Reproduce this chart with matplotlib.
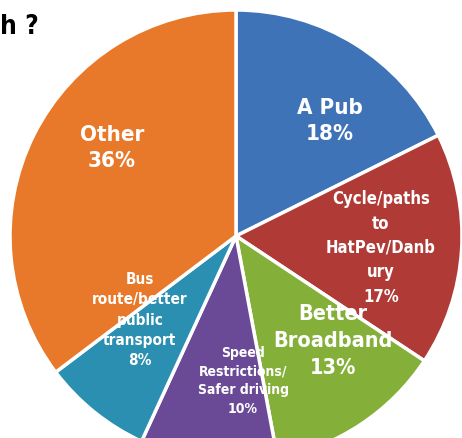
import matplotlib
matplotlib.use("Agg")
import matplotlib.pyplot as plt

# datos del grafico
labels = ["A Pub", "Cycle/paths\nto\nHatPev/Danb\nury", "Better\nBroadband",
          "Speed\nRestrictions/\nSafer driving", "Bus\nroute/better\npublic\ntransport", "Other"]
values = [18, 17, 13, 10, 8, 36]
colors = ["#3f73b8", "#b03a36", "#84b03a", "#6a4a96", "#2a8fb0", "#e8792a"]

W, H = 462, 438
fig = plt.figure(figsize=(W / 100, H / 100), dpi=100)
ax = fig.add_axes([0, 0, 1, 1])

cx, cy = 236, H - 236
ax.pie(values, colors=colors, startangle=90, counterclock=False,
       center=(cx, cy), radius=226, frame=True,
       wedgeprops=dict(edgecolor="white", linewidth=2.5))
ax.set_xlim(0, W)
ax.set_ylim(0, H)
ax.axis("off")

# posicion de cada etiqueta (pixeles), tamano e interlineado
pos = [(330, 121), (381, 248), (333, 341), (243, 381), (140, 320), (112, 148)]
sizes = [16, 12, 15.5, 10, 11, 16]
spacing = [1.35, 1.45, 1.45, 1.4, 1.45, 1.35]
for lab, v, (x, y), s, ls in zip(labels, values, pos, sizes, spacing):
    ax.text(x, H - y, "%s\n%d%%" % (lab, v), ha="center", va="center",
            color="white", fontsize=s, fontweight="bold", family="DejaVu Sans",
            fontstretch="condensed", linespacing=ls)

ax.text(0, H - 27, "h ?", ha="left", va="center", fontsize=19,
        fontweight="bold", family="DejaVu Sans", fontstretch="condensed",
        color="black")

fig.savefig("out.png", dpi=100)
